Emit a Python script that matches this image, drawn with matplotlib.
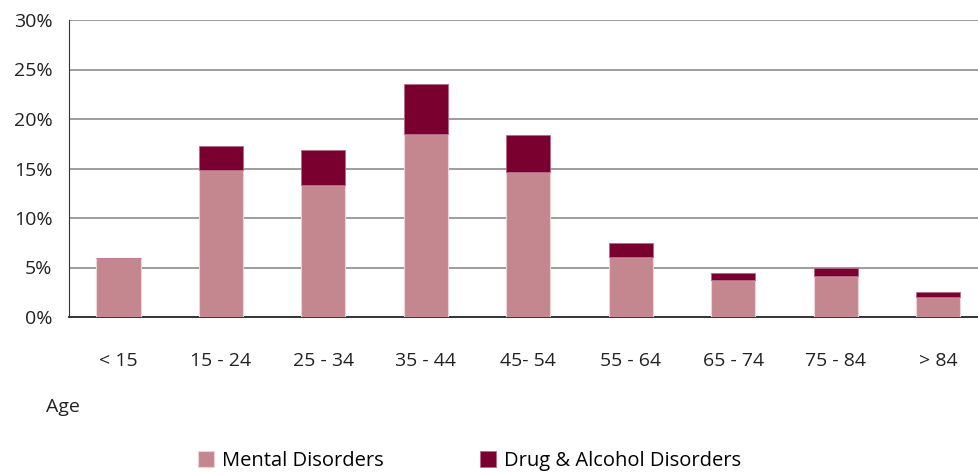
import numpy as np
import matplotlib.pyplot as plt
from matplotlib.ticker import PercentFormatter

plt.rcParams['font.family'] = ['Open Sans', 'DejaVu Sans']

# share of each age group, in percent
ages = ['< 15', '15 - 24', '25 - 34', '35 - 44', '45- 54', '55 - 64', '65 - 74', '75 - 84', '> 84']
mental = [6.0, 14.85, 13.3, 18.5, 14.6, 6.05, 3.7, 4.1, 2.0]
drug_alcohol = [0.0, 2.45, 3.6, 5.0, 3.8, 1.45, 0.75, 0.8, 0.55]

mental_col = '#c4878f'
drug_col = '#7a0030'

fig = plt.figure(figsize=(9.79, 4.72), dpi=100)
ax = fig.add_axes([69/979, 1 - 317/472, 1 - 69/979, 297/472])

x = np.arange(len(ages))
ax.bar(x, mental, width=0.43, color=mental_col, edgecolor='#ecd3d6', linewidth=0.8,
       label='Mental Disorders', zorder=3)
ax.bar(x, drug_alcohol, width=0.43, bottom=mental, color=drug_col, edgecolor='#b56a85',
       linewidth=0.6, label='Drug & Alcohol Disorders', zorder=3)

ax.set_xlim(-0.483, 8.4)
ax.set_ylim(0, 30)
ax.set_yticks(np.arange(0, 31, 5))
ax.yaxis.set_major_formatter(PercentFormatter(decimals=0))
ax.set_xticks(x)
ax.set_xticklabels(ages)
ax.tick_params(axis='both', length=0, labelsize=14, colors='#222222')
ax.tick_params(axis='x', pad=25)
ax.tick_params(axis='y', pad=12)

ax.grid(axis='y', color='#8c8c8c', linewidth=1.2, zorder=0)
for s in ['top', 'right']:
    ax.spines[s].set_visible(False)
ax.spines['left'].set_color('#333333')
ax.spines['bottom'].set_color('#333333')
ax.spines['bottom'].set_linewidth(1.4)

fig.text(46/979, 1 - 407/472, 'Age', fontsize=14, color='#222222', va='center')

fig.legend(loc='center left', bbox_to_anchor=(180/979, 1 - 461/472), ncol=2,
           frameon=False, fontsize=14.5, handlelength=0.8, handleheight=0.85,
           handletextpad=0.4, columnspacing=4.75)

fig.savefig('out.png', dpi=100)
